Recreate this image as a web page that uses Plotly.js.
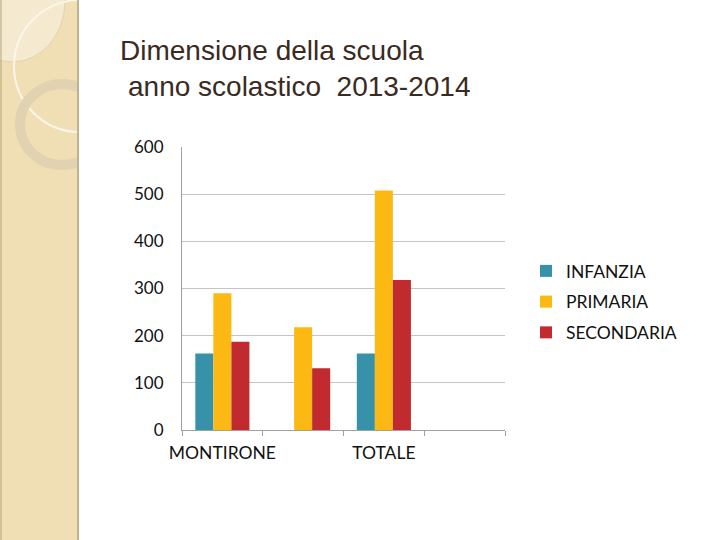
<!DOCTYPE html>
<html>
<head>
<meta charset="utf-8">
<script src="https://cdn.plot.ly/plotly-3.0.1.min.js"></script>
<style>
  html, body { margin: 0; padding: 0; background: #ffffff; }
  #chart { width: 720px; height: 540px; }
</style>
</head>
<body>
<div id="chart"></div>
<script>
// school groups (the second one has no label on the slide, the fourth is empty)
const categories = ["MONTIRONE", "SCUOLA 2", "TOTALE", "VUOTO"];
const tickLabels = ["MONTIRONE", "", "TOTALE", ""];

const seriesNames = ["INFANZIA", "PRIMARIA", "SECONDARIA"];
const infanzia = [162, null, 162, null];
const primaria = [290, 218, 508, null];
const secondaria = [187, 131, 318, null];

const seriesColors = ["#3791a9", "#fdb913", "#c12b2f"];

// plot area in pixels
const W = 720, H = 540;
const plotLeft = 182, plotRight = 505, plotTop = 147, plotBottom = 430;

// pixel -> paper helpers, used only for the slide decoration
const px = (x) => (x - plotLeft) / (plotRight - plotLeft);
const py = (y) => (plotBottom - y) / (plotBottom - plotTop);

function makeBar(name, values, color, i) {
  return {
    type: "bar",
    name: name,
    x: categories,
    y: values,
    marker: { color: color },
    legendgroup: "g" + i,
    hoverinfo: "y+name"
  };
}

const traces = [
  makeBar(seriesNames[0], infanzia, seriesColors[0], 0),
  makeBar(seriesNames[1], primaria, seriesColors[1], 1),
  makeBar(seriesNames[2], secondaria, seriesColors[2], 2)
];

// beige side strip of the slide template
const shapes = [
  { type: "rect", xref: "paper", yref: "paper", x0: px(0), x1: px(78), y0: py(540), y1: py(0),
    fillcolor: "#f0dfb5", line: { width: 0 }, layer: "below" },
  { type: "circle", xref: "paper", yref: "paper", x0: px(-40), x1: px(65), y0: py(62), y1: py(-60),
    fillcolor: "#f5ead0", line: { color: "#e2d2ad", width: 1 }, layer: "below" },
  { type: "circle", xref: "paper", yref: "paper", x0: px(14), x1: px(146), y0: py(132), y1: py(0),
    fillcolor: "rgba(0,0,0,0)", line: { color: "#fbf6ea", width: 2 }, layer: "below" },
  { type: "circle", xref: "paper", yref: "paper", x0: px(20), x1: px(104), y0: py(165), y1: py(84),
    fillcolor: "rgba(0,0,0,0)", line: { color: "#e1d3b1", width: 10 }, layer: "below" },
  // cover what the circles draw outside the strip
  { type: "rect", xref: "paper", yref: "paper", x0: px(79), x1: px(170), y0: py(540), y1: py(0),
    fillcolor: "#ffffff", line: { width: 0 }, layer: "below" },
  { type: "line", xref: "paper", yref: "paper", x0: px(78), x1: px(78), y0: py(540), y1: py(0),
    line: { color: "#c2b18b", width: 2 }, layer: "below" },
  { type: "line", xref: "paper", yref: "paper", x0: px(1), x1: px(1), y0: py(540), y1: py(0),
    line: { color: "#b5a27a", width: 1 }, layer: "below" }
];

const titleFont = { family: "Liberation Sans, Arial, sans-serif", size: 28, color: "#3a2a22" };
const labelFont = { family: "Lato, sans-serif", size: 17.5, color: "#111111" };

const layout = {
  width: W,
  height: H,
  margin: { l: plotLeft, r: W - plotRight, t: plotTop, b: H - plotBottom, pad: 0 },
  paper_bgcolor: "#ffffff",
  plot_bgcolor: "rgba(0,0,0,0)",
  barmode: "group",
  bargap: 0.33,
  bargroupgap: 0,
  font: { family: "Lato, 'Open Sans', sans-serif", size: 16, color: "#000000" },
  showlegend: true,
  legend: {
    x: px(526), y: py(253), xanchor: "left", yanchor: "top",
    font: labelFont,
    tracegroupgap: 5,
    itemwidth: 30,
    bgcolor: "rgba(0,0,0,0)"
  },
  xaxis: {
    type: "category",
    tickvals: categories,
    ticktext: tickLabels,
    tickangle: 0,
    tickson: "boundaries",
    ticks: "outside",
    ticklen: 5,
    tickcolor: "#a0a0a0",
    showline: true,
    linecolor: "#a0a0a0",
    linewidth: 1,
    showgrid: false,
    ticklabelstandoff: 7,
    tickfont: labelFont,
    fixedrange: true
  },
  yaxis: {
    range: [0, 600],
    dtick: 100,
    showgrid: true,
    gridcolor: "#c4c4c4",
    gridwidth: 1,
    zeroline: false,
    showline: true,
    linecolor: "#a0a0a0",
    linewidth: 1,
    ticks: "",
    ticklabelstandoff: 14,
    tickfont: { family: "Lato, sans-serif", size: 17, color: "#111111" },
    fixedrange: true
  },
  shapes: shapes,
  annotations: [
    { text: "Dimensione della scuola", xref: "paper", yref: "paper",
      x: px(118), y: py(50), xanchor: "left", yanchor: "middle", showarrow: false, font: titleFont },
    { text: "anno scolastico&nbsp; 2013-2014", xref: "paper", yref: "paper",
      x: px(126), y: py(86), xanchor: "left", yanchor: "middle", showarrow: false, font: titleFont }
  ]
};

Plotly.newPlot("chart", traces, layout, { displayModeBar: false, staticPlot: true });
</script>
</body>
</html>
